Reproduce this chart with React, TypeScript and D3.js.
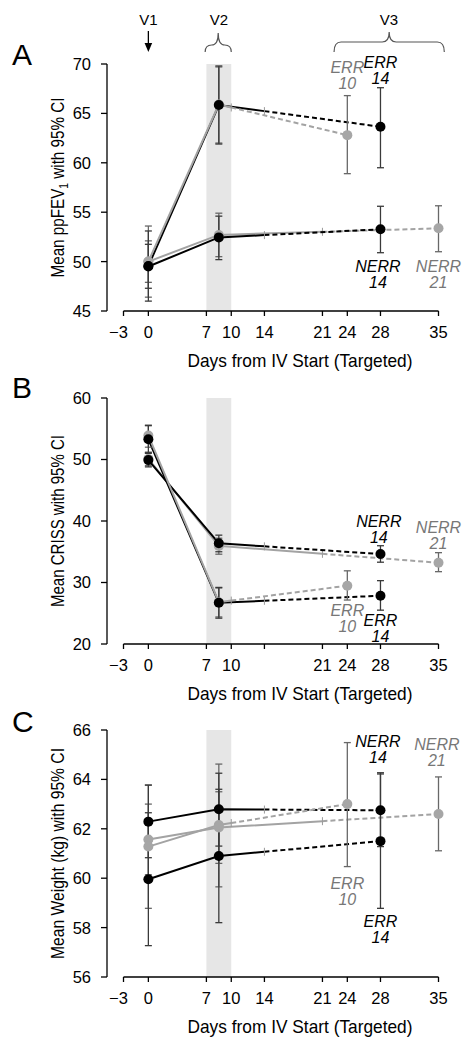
import React from 'react';
import * as d3 from 'd3';

const FONT = "'Liberation Sans', Arial, Helvetica, sans-serif";

// Series order: ERR14, ERR10, NERR14, NERR21
const seriesKeys = ['ERR14', 'ERR10', 'NERR14', 'NERR21'];
const seriesTone = ['black', 'gray', 'black', 'gray'];
const targetDays = [14, 10, 14, 21];
const v3Days = [28, 24, 28, 35];
const visitDays = [0, 8.5];
const lineOrder = [3, 2, 0, 1];
const pointOrder = [3, 1, 2, 0];

const dayTicks = [-3, 0, 7, 10, 14, 21, 24, 28, 35];
const bandDays = [7, 10];

// Panel A: ppFEV1
const fevTicks = [45, 50, 55, 60, 65, 70];
const fevMean = [[49.55, 65.85, 63.65], [50.0, 65.9, 62.8], [49.5, 52.45, 53.27], [50.0, 52.7, 53.37]];
const fevLow = [[46.0, 61.9, 59.5], [46.4, 62.0, 58.9], [47.3, 50.2, 50.9], [47.9, 50.5, 51.0]];
const fevHigh = [[53.1, 69.8, 67.6], [53.6, 69.7, 66.8], [51.75, 54.6, 55.6], [52.1, 54.9, 55.65]];
const fevLabels = [
  { series: 1, lines: ['ERR', '10'], day: 24, value: 67.47 },
  { series: 0, lines: ['ERR', '14'], day: 28, value: 67.98 },
  { series: 2, lines: ['NERR', '14'], day: 27.7, value: 47.33 },
  { series: 3, lines: ['NERR', '21'], day: 35, value: 47.33 },
];

// Panel B: CRISS
const crissTicks = [20, 30, 40, 50, 60];
const crissMean = [[53.28, 26.7, 27.85], [53.9, 26.8, 29.48], [49.9, 36.37, 34.63], [50.1, 35.95, 33.22]];
const crissLow = [[51.1, 24.2, 25.5], [52.0, 24.4, 27.15], [48.8, 35.0, 33.3], [49.0, 34.6, 31.76]];
const crissHigh = [[55.5, 29.2, 30.3], [55.6, 29.1, 31.9], [51.0, 37.7, 35.98], [51.2, 37.2, 34.85]];
const crissLabels = [
  { series: 2, lines: ['NERR', '14'], day: 27.8, value: 36.47 },
  { series: 3, lines: ['NERR', '21'], day: 35, value: 35.45 },
  { series: 1, lines: ['ERR', '10'], day: 24, value: 21.95 },
  { series: 0, lines: ['ERR', '14'], day: 28, value: 20.33 },
];

// Panel C: Weight
const wtTicks = [56, 58, 60, 62, 64, 66];
const wtMean = [[59.96, 60.9, 61.5], [61.28, 62.15, 63.0], [62.29, 62.79, 62.75], [61.57, 62.05, 62.6]];
const wtLow = [[57.27, 58.2, 58.78], [58.78, 59.65, 60.47], [60.83, 61.3, 61.28], [60.14, 60.6, 61.11]];
const wtHigh = [[62.65, 63.6, 64.22], [63.77, 64.62, 65.49], [63.77, 64.25, 64.27], [63.0, 63.5, 64.1]];
const wtLabels = [
  { series: 2, lines: ['NERR', '14'], day: 27.7, value: 64.66 },
  { series: 3, lines: ['NERR', '21'], day: 34.8, value: 64.54 },
  { series: 1, lines: ['ERR', '10'], day: 24, value: 58.91 },
  { series: 0, lines: ['ERR', '14'], day: 28, value: 57.38 },
];

const TONES: Record<string, any> = {
  black: { line: '#000', point: '#000', err: '#3a3a3a', label: '#000' },
  gray: { line: '#a3a3a3', point: '#a6a6a6', err: '#686868', label: '#777' },
};

const xScale = d3.scaleLinear().domain([-3, 35]).range([123.5, 438.5]);
const AXIS_X = 107;

function bracePath(x1: number, x2: number, yEnd: number, yFlat: number, yTip: number) {
  const xm = (x1 + x2) / 2;
  const r = Math.min(7, (x2 - x1) / 4);
  return `M${x1},${yEnd} Q${x1},${yFlat} ${x1 + r},${yFlat} L${xm - r},${yFlat} Q${xm},${yFlat} ${xm},${yTip} Q${xm},${yFlat} ${xm + r},${yFlat} L${x2 - r},${yFlat} Q${x2},${yFlat} ${x2},${yEnd}`;
}

function Panel(props: any) {
  const { letter, letterY, top, bottom, domain, ticks, means, lows, highs, labels, yTitle, yTitleLen, skipLabels } = props;
  const y = d3.scaleLinear().domain(domain).range([bottom, top]);
  const line = d3.line<[number, number]>().x(d => xScale(d[0])).y(d => y(d[1]));
  const midY = (top + bottom) / 2;

  const seriesEls = lineOrder.map(i => {
    const tone = TONES[seriesTone[i]];
    const m = means[i];
    const interp = d3.interpolateNumber(m[1], m[2]);
    const tVal = interp((targetDays[i] - visitDays[1]) / (v3Days[i] - visitDays[1]));
    const solid: [number, number][] = [[visitDays[0], m[0]], [visitDays[1], m[1]], [targetDays[i], tVal]];
    const dashed: [number, number][] = [[targetDays[i], tVal], [v3Days[i], m[2]]];
    return (
      <g key={'l' + seriesKeys[i]}>
        <path d={line(solid) || ''} fill="none" stroke={tone.line} strokeWidth={2} />
        <path d={line(dashed) || ''} fill="none" stroke={tone.line} strokeWidth={2} strokeDasharray="5,3" />
        <line x1={xScale(targetDays[i])} x2={xScale(targetDays[i])} y1={y(tVal) - 4} y2={y(tVal) + 4} stroke="#999" strokeWidth={1} />
      </g>
    );
  });

  const errEls = pointOrder.map(i => {
    const tone = TONES[seriesTone[i]];
    const days = [visitDays[0], visitDays[1], v3Days[i]];
    return (
      <g key={'e' + seriesKeys[i]} stroke={tone.err} strokeWidth={1.3}>
        {days.map((d, k) => {
          const x = xScale(d);
          return (
            <g key={k}>
              <line x1={x} x2={x} y1={y(lows[i][k])} y2={y(highs[i][k])} />
              <line x1={x - 3.5} x2={x + 3.5} y1={y(lows[i][k])} y2={y(lows[i][k])} />
              <line x1={x - 3.5} x2={x + 3.5} y1={y(highs[i][k])} y2={y(highs[i][k])} />
            </g>
          );
        })}
      </g>
    );
  });

  const pointEls = pointOrder.map(i => {
    const tone = TONES[seriesTone[i]];
    const days = [visitDays[0], visitDays[1], v3Days[i]];
    return (
      <g key={'p' + seriesKeys[i]} fill={tone.point}>
        {days.map((d, k) => (
          <circle key={k} cx={xScale(d)} cy={y(means[i][k])} r={5} />
        ))}
      </g>
    );
  });

  return (
    <g>
      <text x={12} y={letterY} fontSize={30} fontFamily={FONT} fill="#000">{letter}</text>
      <rect x={xScale(bandDays[0])} y={top} width={xScale(bandDays[1]) - xScale(bandDays[0])} height={bottom - top} fill="#e6e6e6" />
      <line x1={AXIS_X} x2={AXIS_X} y1={top} y2={bottom} stroke="#000" strokeWidth={1.3} />
      {ticks.map((t: number) => (
        <g key={'yt' + t}>
          <line x1={AXIS_X - 6} x2={AXIS_X} y1={y(t)} y2={y(t)} stroke="#000" strokeWidth={1.3} />
          <text x={AXIS_X - 16} y={y(t)} dy="0.36em" textAnchor="end" fontSize={16.5} fontFamily={FONT} fill="#000">{t}</text>
        </g>
      ))}
      <text transform={`translate(64,${midY}) rotate(-90)`} textAnchor="middle" fontSize={18} fontFamily={FONT} fill="#000" textLength={yTitleLen} lengthAdjust="spacingAndGlyphs">{yTitle}</text>
      <line x1={xScale(-3)} x2={xScale(35)} y1={bottom} y2={bottom} stroke="#000" strokeWidth={1.3} />
      {dayTicks.map(t => (
        <g key={'xt' + t}>
          <line x1={xScale(t)} x2={xScale(t)} y1={bottom} y2={bottom + 5} stroke="#000" strokeWidth={1.3} />
          {skipLabels.includes(t) ? null : (
            <text x={xScale(t) + (t < 0 ? -5 : 0)} y={bottom + 27} textAnchor="middle" fontSize={16.5} fontFamily={FONT} fill="#000">{t < 0 ? '\u2212' + Math.abs(t) : t}</text>
          )}
        </g>
      ))}
      <text x={300} y={bottom + 56} textAnchor="middle" fontSize={19} fontFamily={FONT} fill="#000" textLength={225} lengthAdjust="spacingAndGlyphs">Days from IV Start (Targeted)</text>
      {seriesEls}
      {errEls}
      {pointEls}
      {labels.map((lb: any, k: number) => {
        const tone = TONES[seriesTone[lb.series]];
        const yb = y(lb.value);
        return (
          <text key={'lb' + k} textAnchor="middle" fontSize={16} fontStyle="italic" fontFamily={FONT} fill={tone.label}>
            <tspan x={xScale(lb.day)} y={yb - 16}>{lb.lines[0]}</tspan>
            <tspan x={xScale(lb.day)} y={yb}>{lb.lines[1]}</tspan>
          </text>
        );
      })}
    </g>
  );
}

export default function App() {
  const v1x = xScale(visitDays[0]);
  const v2x = xScale(visitDays[1]);
  return (
    <svg width={472} height={1050} style={{ position: 'absolute', left: 0, top: 0, background: '#fff' }}>
      <rect x={0} y={0} width={472} height={1050} fill="#fff" />
      <g fontFamily={FONT} fontSize={15} fill="#000" textAnchor="middle">
        <text x={v1x} y={25}>V1</text>
        <text x={v2x} y={25}>V2</text>
        <text x={389} y={25}>V3</text>
      </g>
      <line x1={v1x} x2={v1x} y1={31} y2={45} stroke="#000" strokeWidth={1.3} />
      <path d={`M${v1x - 3.8},${43} L${v1x + 3.8},${43} L${v1x},${52} Z`} fill="#000" />
      <path d={bracePath(xScale(6.85), xScale(10), 52, 45, 33)} fill="none" stroke="#555" strokeWidth={1.2} />
      <path d={bracePath(xScale(22.4), xScale(35.7), 52, 42, 32)} fill="none" stroke="#555" strokeWidth={1.2} />

      <Panel letter="A" letterY={65} top={64} bottom={311} domain={[45, 70]} ticks={fevTicks}
        means={fevMean} lows={fevLow} highs={fevHigh} labels={fevLabels} skipLabels={[]} yTitleLen={180}
        yTitle={<>Mean ppFEV<tspan fontSize={12} dy="4">1</tspan><tspan dy="-4"> with 95% CI</tspan></>} />
      <Panel letter="B" letterY={398} top={398} bottom={644} domain={[20, 60]} ticks={crissTicks}
        means={crissMean} lows={crissLow} highs={crissHigh} labels={crissLabels} skipLabels={[14]} yTitleLen={172}
        yTitle="Mean CRISS with 95% CI" />
      <Panel letter="C" letterY={732} top={730} bottom={977} domain={[56, 66]} ticks={wtTicks}
        means={wtMean} lows={wtLow} highs={wtHigh} labels={wtLabels} skipLabels={[]} yTitleLen={211}
        yTitle="Mean Weight (kg) with 95% CI" />
    </svg>
  );
}
